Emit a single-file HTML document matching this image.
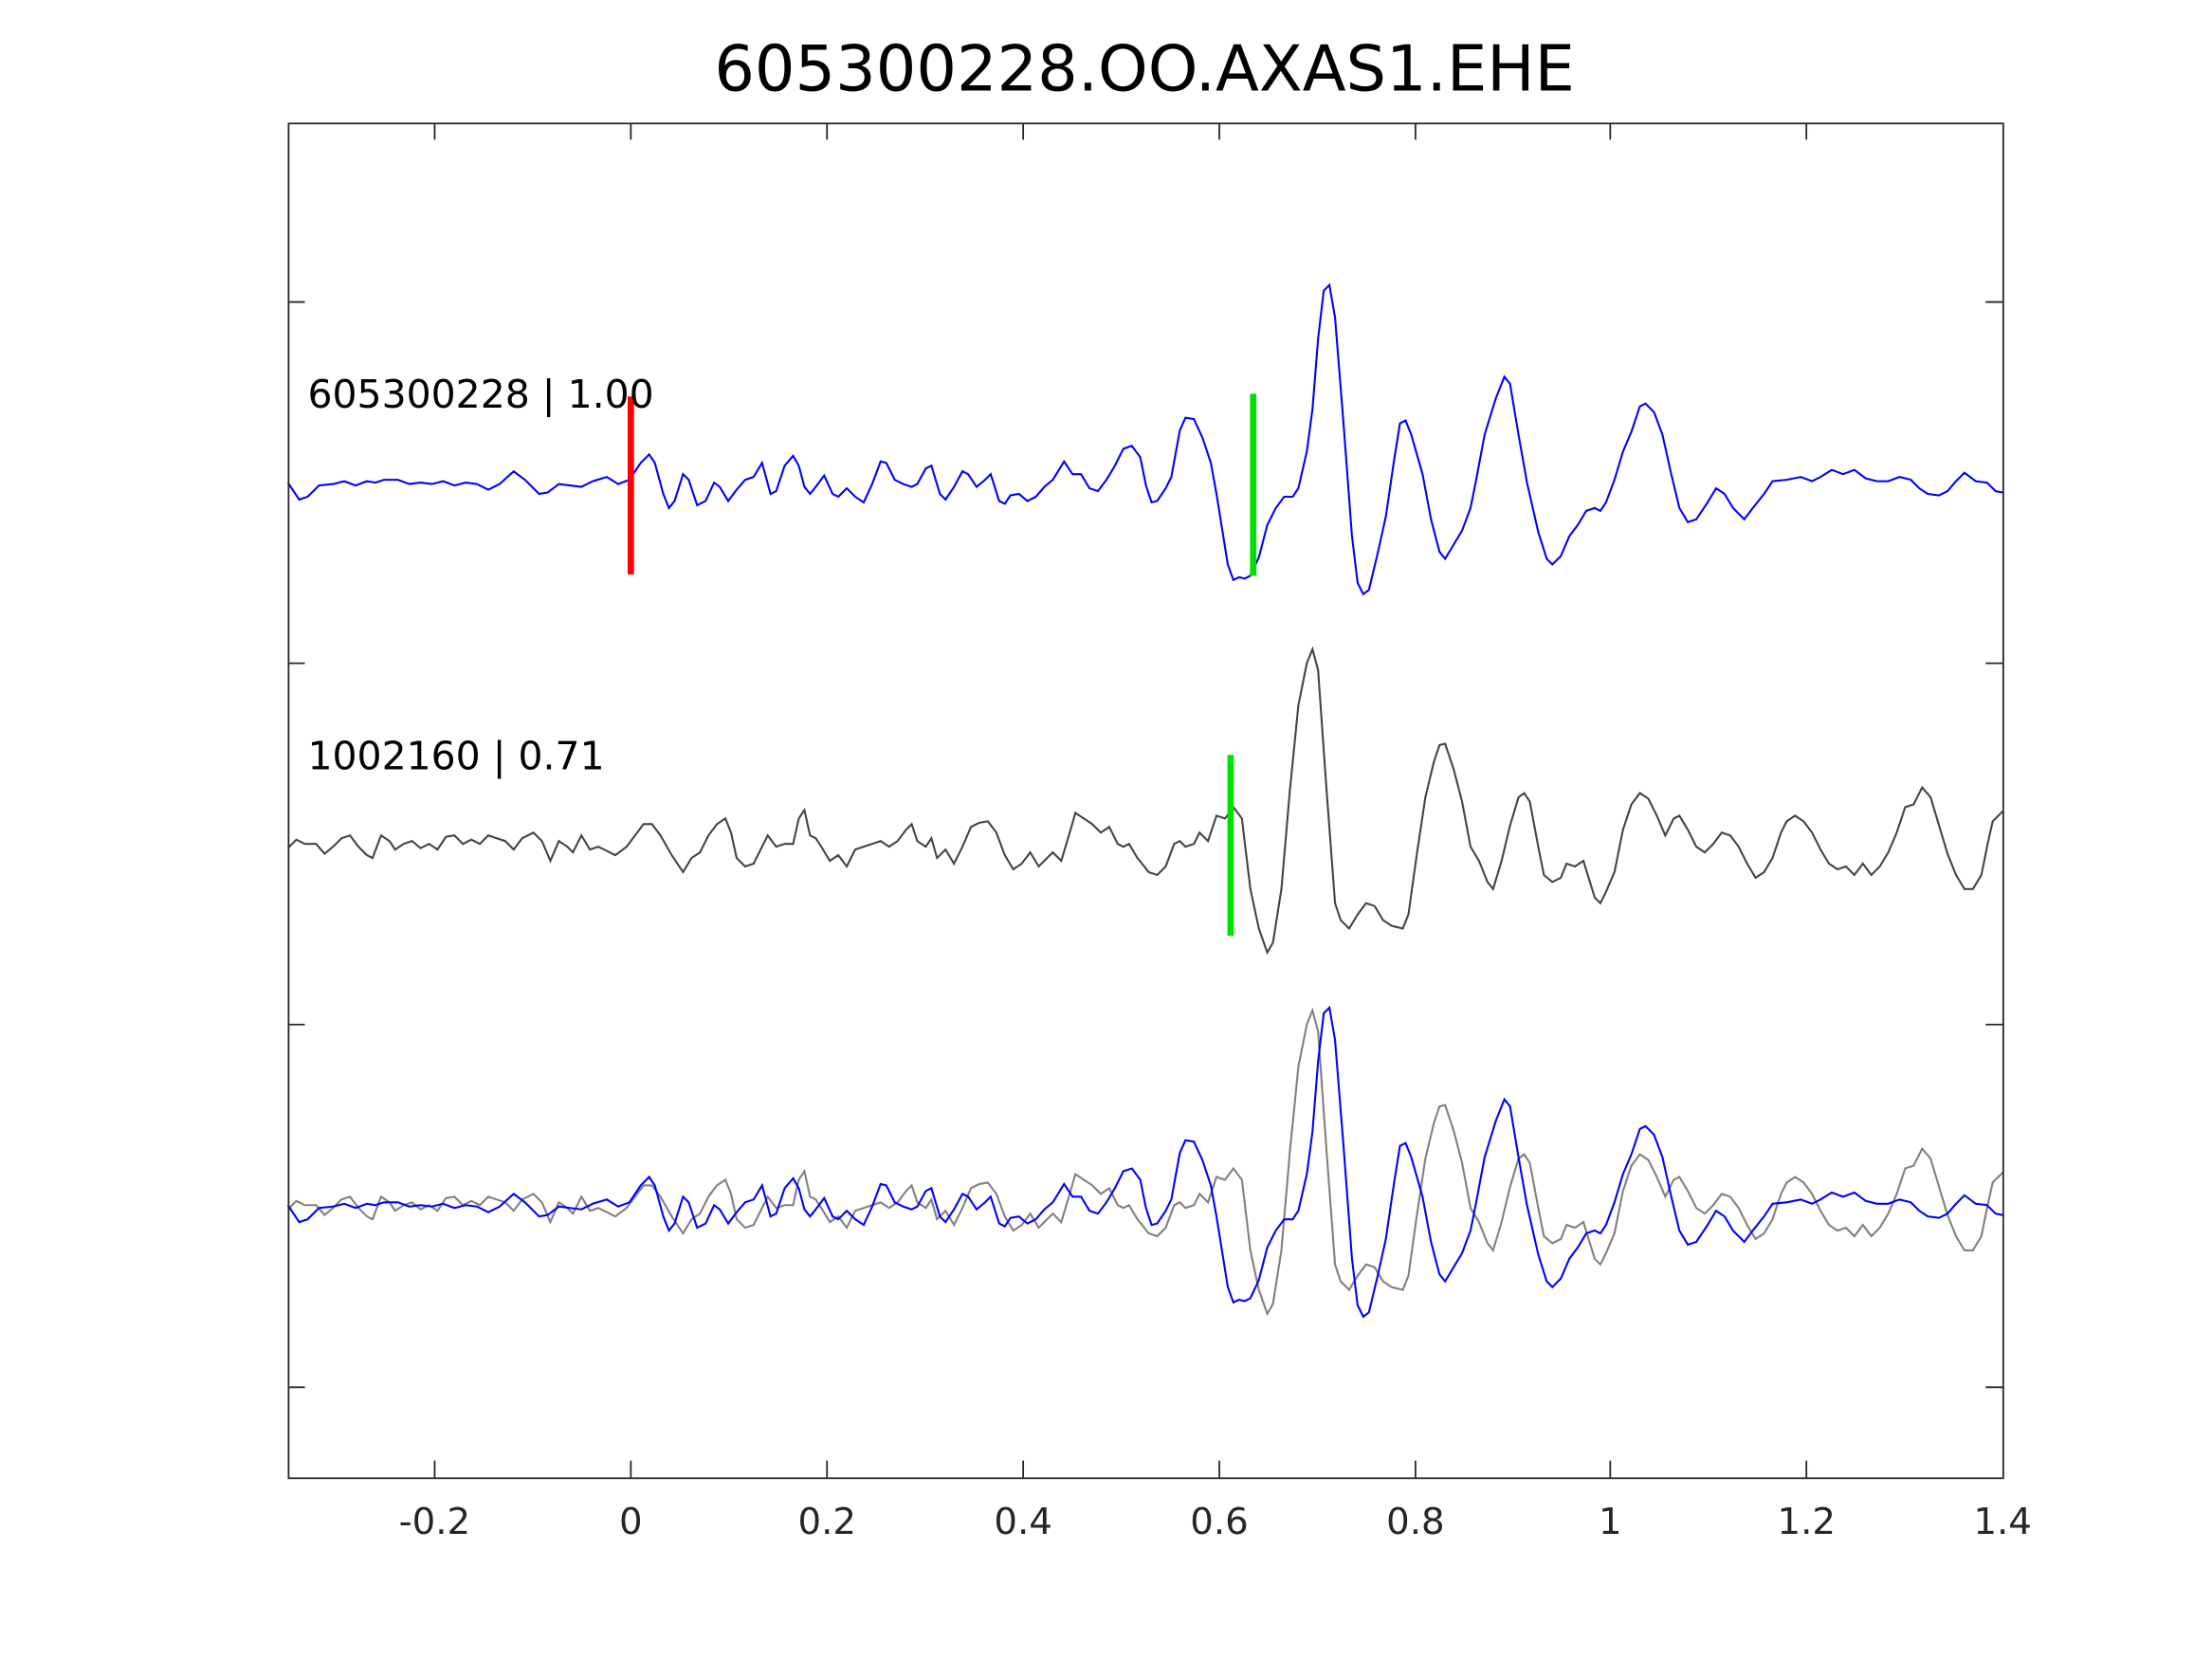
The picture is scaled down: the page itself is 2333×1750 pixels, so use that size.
<!DOCTYPE html>
<html><head><meta charset="utf-8"><style>html,body{margin:0;padding:0;background:#fff}svg{display:block}</style></head>
<body>
<svg width="2333" height="1750" viewBox="0 0 1567.4 1175.6" preserveAspectRatio="none" xmlns="http://www.w3.org/2000/svg" font-family="'DejaVu Sans','Liberation Sans',sans-serif">
<rect width="1568" height="1176" fill="#fff"/>
<text x="811" y="64" font-size="45" text-anchor="middle" fill="#000">605300228.OO.AXAS1.EHE</text>
<defs>
<polyline id="bl" fill="none" stroke="#0000ff" stroke-width="1.4" points="204,342 212,354 218,352 226,344 236,343 244,341 252,344 260,341 266,342 272,340 282,340 290,343 298,342 306,343 314,341 322,344 330,342 338,343 346,347 354,343 364,334 372,340 382,350 388,349 396,343 404,344 412,345 420,341 430,338 438,343 446,340 454,328 460,322 464,328 470,350 474,360 478,355 484,336 488,340 494,358 500,355 506,342 510,345 516,355 522,347 528,340 534,338 540,328 546,350 550,348 556,330 562,323 566,330 570,345 574,350 578,345 584,337 590,350 594,352 600,346 606,352 612,356 618,343 624,327 628,328 634,340 640,343 646,345 650,343 656,332 660,330 666,350 670,354 676,345 682,334 686,336 692,345 698,340 702,336 708,355 712,357 716,351 722,350 728,355 734,352 740,345 746,340 754,327 760,336 766,336 772,346 778,348 784,340 790,330 796,318 802,316 808,324 812,344 816,356 820,355 826,346 830,338 836,305 840,296 846,297 852,310 858,328 862,350 866,375 870,400 874,411 878,409 882,410 886,408 892,395 898,372 904,360 910,352 916,352 920,346 926,320 930,290 934,240 938,206 942,202 946,225 952,300 958,380 962,413 966,421 970,418 976,393 982,366 988,325 992,300 996,298 1000,308 1008,336 1014,368 1020,391 1024,396 1030,386 1036,376 1042,360 1046,340 1052,308 1060,282 1066,267 1070,272 1076,308 1082,342 1090,377 1096,396 1100,400 1106,394 1112,380 1118,372 1124,362 1130,360 1134,362 1138,356 1144,340 1150,320 1156,306 1162,288 1166,286 1172,292 1178,308 1184,335 1190,360 1196,370 1202,368 1210,356 1216,346 1222,350 1228,360 1236,368 1242,360 1250,350 1256,341 1266,340 1276,338 1284,341 1290,338 1298,333 1306,336 1314,333 1322,339 1330,341 1338,341 1346,338 1354,340 1360,346 1366,350 1374,351 1380,348 1386,341 1392,335 1400,341 1408,342 1414,348 1419,349"/>
<polyline id="bk" fill="none" stroke-width="1.4" points="204,601 210,595 216,598 224,598 230,605 236,600 242,594 248,592 254,600 260,606 264,608 270,592 276,596 280,602 286,598 292,596 298,601 304,598 310,602 316,593 322,592 328,598 334,595 340,598 346,592 352,594 358,596 364,602 370,594 378,590 384,596 390,610 396,596 402,600 406,604 412,592 418,602 424,600 430,603 436,606 444,600 450,592 456,584 462,584 468,592 476,606 484,618 490,608 496,604 502,592 508,584 514,580 518,590 522,608 528,614 534,612 540,600 544,592 550,600 556,598 562,598 566,580 570,574 574,592 578,594 582,600 588,610 594,606 600,614 606,602 612,600 618,598 624,596 630,600 636,596 642,588 646,584 650,596 656,600 660,594 664,608 670,602 676,612 682,600 688,586 694,583 700,582 706,590 712,606 718,616 724,612 730,604 736,614 740,610 746,604 752,610 758,590 762,576 768,580 774,584 780,590 786,586 792,598 796,600 800,598 806,608 814,618 820,620 826,614 832,598 836,596 840,600 846,598 850,590 856,596 862,578 868,580 874,572 880,580 886,630 892,658 898,675 902,668 908,630 914,560 920,500 926,470 930,460 934,475 940,560 946,640 950,652 956,658 962,648 968,640 974,642 980,652 986,656 994,658 998,648 1004,605 1010,565 1016,540 1020,528 1024,527 1030,545 1036,568 1042,600 1048,610 1054,625 1058,630 1064,610 1070,585 1076,565 1080,562 1084,568 1090,600 1094,620 1100,625 1106,622 1110,612 1116,614 1122,610 1130,636 1134,640 1138,632 1144,618 1150,588 1156,570 1162,562 1168,566 1174,578 1180,592 1186,580 1190,578 1196,588 1202,600 1208,604 1214,598 1220,590 1226,592 1232,600 1238,612 1244,622 1250,618 1256,608 1262,590 1266,582 1272,578 1278,582 1284,590 1290,602 1296,612 1302,616 1308,614 1314,620 1320,612 1326,620 1332,614 1338,604 1344,590 1350,572 1356,570 1362,558 1368,565 1374,585 1380,605 1386,620 1392,630 1398,630 1404,620 1408,600 1412,582 1419,575"/>
</defs>
<use href="#bl"/>
<use href="#bk" stroke="#444"/>
<g transform="translate(0,256)"><use href="#bk" stroke="#808080"/></g>
<g transform="translate(0,512)"><use href="#bl"/></g>
<line x1="447" y1="281" x2="447" y2="407" stroke="#ff0000" stroke-width="4.5"/>
<line x1="888" y1="279" x2="888" y2="408" stroke="#00e000" stroke-width="4.5"/>
<line x1="872" y1="535" x2="872" y2="663" stroke="#00e000" stroke-width="4.5"/>
<text x="218" y="289" font-size="27.5" fill="#000">605300228 | 1.00</text>
<text x="218" y="545" font-size="27.5" fill="#000">1002160 | 0.71</text>
<rect x="204.5" y="87.5" width="1215" height="960" fill="none" stroke="#262626" stroke-width="1.2"/>
<g stroke="#262626" stroke-width="1.2">
<path d="M308,1047v-12M447,1047v-12M586,1047v-12M725,1047v-12M864,1047v-12M1003,1047v-12M1141,1047v-12M1280,1047v-12M308,87v12M447,87v12M586,87v12M725,87v12M864,87v12M1003,87v12M1141,87v12M1280,87v12"/>
<path d="M204,214h12M204,470h12M204,726h12M204,983h12M1419,214h-12M1419,470h-12M1419,726h-12M1419,983h-12"/>
</g>
<g font-size="26" fill="#262626" text-anchor="middle">
<text x="308" y="1087">-0.2</text><text x="447" y="1087">0</text><text x="586" y="1087">0.2</text><text x="725" y="1087">0.4</text><text x="864" y="1087">0.6</text><text x="1003" y="1087">0.8</text><text x="1141" y="1087">1</text><text x="1280" y="1087">1.2</text><text x="1419" y="1087">1.4</text>
</g>
</svg>
</body></html>
